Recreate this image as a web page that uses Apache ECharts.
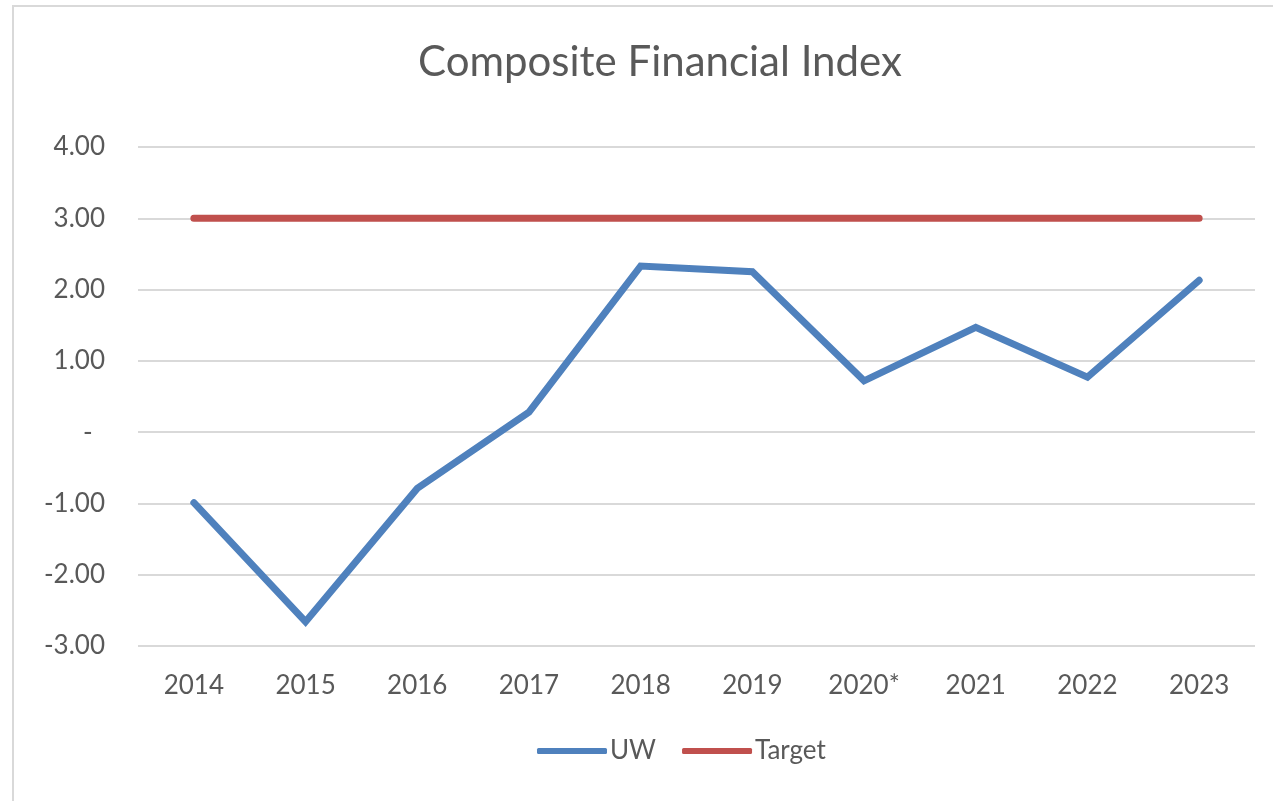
<!DOCTYPE html>
<html>
<head>
	<meta charset="utf-8">
	<script src="https://cdn.jsdelivr.net/npm/echarts@6/dist/echarts.min.js"></script>
</head>
<body style="margin:0;background:#fff;">
	<div id="main" style="width:1273px;height:801px;"></div>
	<script type="text/javascript">
        // data
        var years = ['2014', '2015', '2016', '2017', '2018', '2019', '2020*', '2021', '2022', '2023'];
        var uw = [-0.99, -2.66, -0.79, 0.28, 2.33, 2.25, 0.72, 1.47, 0.77, 2.13];
        var target = [3, 3, 3, 3, 3, 3, 3, 3, 3, 3];
        var txt = '#595959';
        var fam = 'Lato, "Open Sans", sans-serif';

        var myChart = echarts.init(document.getElementById('main'));
        var option = {
            animation: false,
            title: {
                text: 'Composite Financial Index',
                left: 413,
                top: 36,
                textStyle: { color: txt, fontSize: 42, fontWeight: 'normal', fontFamily: fam }
            },
            legend: {
                data: ['UW', 'Target'],
                top: 733,
                left: 532,
                itemWidth: 70,
                itemHeight: 6,
                itemGap: 26,
                icon: 'roundRect',
                textStyle: { color: txt, fontSize: 26, fontFamily: fam, padding: [0, 0, 0, -2] }
            },
            graphic: [{
                type: 'polyline',
                shape: { points: [[13, 900], [13, 6], [1300, 6]] },
                style: { stroke: '#d9d9d9', lineWidth: 2, fill: null }
            }],
            grid: { left: 138, right: 18, top: 147, bottom: 155 },
            xAxis: {
                type: 'category',
                data: years,
                boundaryGap: true,
                axisLine: { show: false },
                axisTick: { show: false },
                axisLabel: { color: txt, fontSize: 26, fontFamily: fam, margin: 27 }
            },
            yAxis: {
                type: 'value',
                min: -3,
                max: 4,
                interval: 1,
                axisLine: { show: false },
                axisTick: { show: false },
                splitLine: { lineStyle: { color: '#d9d9d9', width: 2 } },
                axisLabel: {
                    color: txt, fontSize: 26, fontFamily: fam, margin: 33, align: 'right',
                    formatter: function (v) { return v === 0 ? '{d|-}' : v.toFixed(2); },
                    rich: { d: { color: txt, fontSize: 26, fontFamily: fam, width: 22, align: 'left' } }
                }
            },
            series: [
                {
                    name: 'UW', type: 'line', data: uw,
                    showSymbol: false, symbol: 'none',
                    itemStyle: { color: '#4f81bd' },
                    lineStyle: { color: '#4f81bd', width: 7, cap: 'round', join: 'miter' }
                },
                {
                    name: 'Target', type: 'line', data: target,
                    showSymbol: false, symbol: 'none',
                    itemStyle: { color: '#c0504d' },
                    lineStyle: { color: '#c0504d', width: 7, cap: 'round' }
                }
            ]
        };
        myChart.setOption(option);
    </script>
</body>
</html>
